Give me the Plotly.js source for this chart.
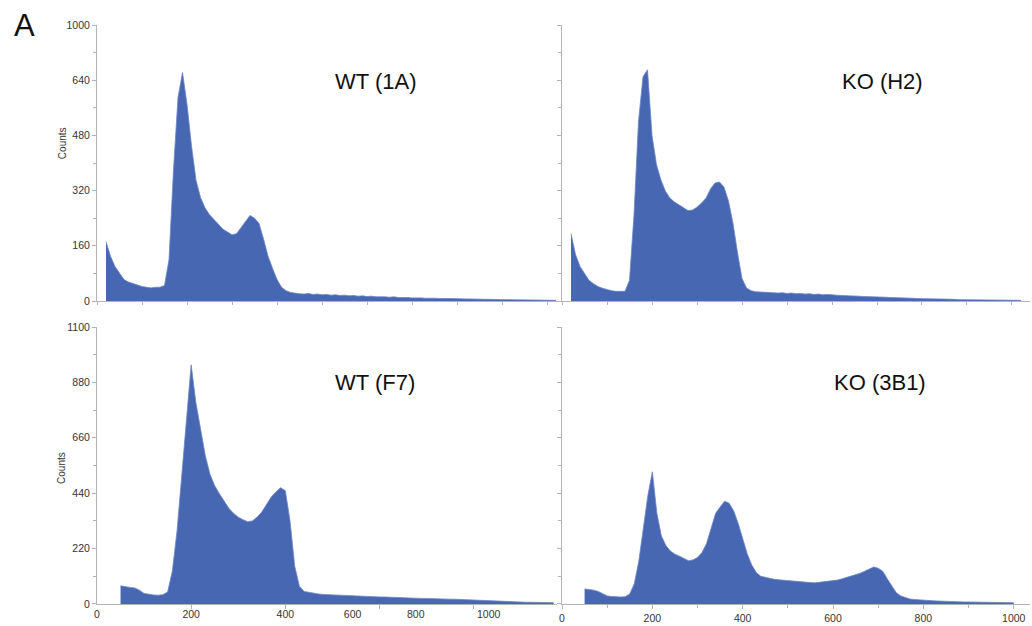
<!DOCTYPE html>
<html>
<head>
<meta charset="utf-8">
<script src="https://cdn.plot.ly/plotly-3.0.1.min.js"></script>
<style>html,body{margin:0;padding:0;background:#fff;}#chart{width:1032px;height:626px;}</style>
</head>
<body>
<div id="chart"></div>
<script>
// ---- data: histogram counts per channel bin (bin width = BIN_WIDTH channels) ----
const BIN_WIDTH = 10;

const panelTitles = ['WT (1A)', 'KO (H2)', 'WT (F7)', 'KO (3B1)'];

const wt1aStart = 20;
const wt1aCounts = [172,130,100,80,62,55,50,45,42,40,38,40,40,45,120,380,590,662,570,450,
  350,300,270,250,235,220,208,200,192,195,212,232,248,240,225,180,130,95,62,40,
  30,25,22,21,20,22,19,20,18,19,17,18,16,17,15,16,14,15,13,14,
  12,13,12,11,12,10,11,10,9,10,9,8,9,8,7,8,7,7,6,7,
  6,6,5,6,5,5,4,5,4,4,4,3,4,3,3,3,3,2,3,2,2];

const koH2Start = 20;
const koH2Counts = [195,135,100,78,60,50,42,37,33,30,28,27,28,60,250,520,650,670,480,395,
  350,318,298,287,278,270,262,264,272,284,298,325,342,345,330,290,225,140,65,38,
  30,27,26,25,24,25,23,24,22,23,21,22,20,21,19,20,18,19,17,17,
  16,16,15,15,14,13,13,12,12,11,11,10,10,9,9,8,8,7,7,6,
  6,6,5,5,5,5,4,4,4,4,4,3,3,3,3,3,3,2,2,2,2];

const wtF7Start = 50;
const wtF7Counts = [72,68,66,64,55,42,38,36,35,37,48,130,290,520,740,950,800,700,590,515,
  470,438,410,380,360,345,335,327,330,345,365,395,425,445,462,450,330,150,70,50,
  46,42,40,38,37,36,35,34,33,32,31,31,30,29,29,28,28,27,26,26,
  25,24,24,23,22,22,21,21,20,20,19,19,18,17,16,15,15,14,13,12,
  11,10,10,9,8,8,7,7,6,6,5,5,5];

const ko3B1Start = 50;
const ko3B1Counts = [60,58,55,50,40,32,30,28,28,29,40,80,170,300,430,525,360,270,232,210,
  198,190,180,172,175,185,205,240,300,360,385,408,400,370,320,260,200,155,125,110,
  105,100,98,96,94,92,90,89,88,86,85,84,86,88,90,92,95,100,105,110,
  116,122,130,138,147,142,130,100,70,45,32,25,20,18,16,15,14,13,12,11,
  10,10,9,9,8,8,8,7,7,7,6,6,6,6,5,5];

// ---- axis ticks ----
const topYTickVals = [0,160,320,480,640,800];
const topYTickText = ['0','160','320','480','640','1000'];
const botYTickVals = [0,220,440,660,880,1100];
const botYTickText = ['0','220','440','660','880','1100'];
const blXTickVals = [0,200,400,543,677,832];
const blXTickText = ['0','200','400','600','800','1000'];
const brXTickVals = [0,200,400,600,800,1000];
const brXTickText = ['0','200','400','600','800','1000'];

// ---- styling ----
const FILL = '#4767b2';
const EDGE = '#6a84c6';
const AXIS = '#b3b3b3';
const FONT = 'Arial, "Liberation Sans", sans-serif';

function hist(start, counts, xa, ya) {
  return {
    type: 'scatter', mode: 'lines',
    x0: start, dx: BIN_WIDTH, y: counts,
    line: {shape: 'linear', color: EDGE, width: 0.8},
    fill: 'tozeroy', fillcolor: FILL,
    xaxis: xa, yaxis: ya, hoverinfo: 'skip'
  };
}

const data = [
  hist(wt1aStart, wt1aCounts, 'x', 'y'),
  hist(koH2Start, koH2Counts, 'x2', 'y2'),
  hist(wtF7Start, wtF7Counts, 'x3', 'y3'),
  hist(ko3B1Start, ko3B1Counts, 'x4', 'y4')
];

function xax(domain, anchor, range, extra) {
  return Object.assign({
    domain: domain, anchor: anchor, range: range,
    showline: true, linecolor: AXIS, linewidth: 1,
    showgrid: false, zeroline: false,
    ticks: 'outside', ticklen: 4, tickcolor: AXIS,
    tickfont: {family: FONT, size: 10.5, color: '#333'},
    ticklabeloverflow: 'allow',
    fixedrange: true
  }, extra);
}
function yax(domain, anchor, range, extra) {
  return Object.assign({
    domain: domain, anchor: anchor, range: range,
    showline: true, linecolor: AXIS, linewidth: 1,
    showgrid: false, zeroline: false,
    ticks: 'outside', ticklen: 4, tickcolor: AXIS,
    tickfont: {family: FONT, size: 10.5, color: '#333'},
    ticklabeloverflow: 'allow',
    fixedrange: true
  }, extra);
}

const TOP = [0.5233, 1];
const BOT = [0, 0.4784];
const LEFT = [0, 0.493];
const RIGHT = [0.4984, 1];

const layout = {
  width: 1032, height: 626,
  margin: {l: 97, r: 2, t: 25, b: 22, pad: 0},
  paper_bgcolor: '#fff', plot_bgcolor: '#fff',
  showlegend: false,
  font: {family: FONT},
  xaxis: xax(LEFT, 'y', [0, 1022], {tickmode: 'linear', tick0: 0, dtick: 100, ticklen: 3, showticklabels: false}),
  yaxis: yax(TOP, 'x', [0, 800], {tickmode: 'array', tickvals: topYTickVals, ticktext: topYTickText,
    minor: {ticks: 'outside', ticklen: 3, tickcolor: AXIS, dtick: 80, tick0: 0}}),
  xaxis2: xax(RIGHT, 'y2', [0, 1040], {tickmode: 'linear', tick0: 0, dtick: 100, ticklen: 3, showticklabels: false}),
  yaxis2: yax(TOP, 'x2', [0, 800], {tickmode: 'array', tickvals: topYTickVals, showticklabels: false,
    minor: {ticks: 'outside', ticklen: 3, tickcolor: AXIS, dtick: 80, tick0: 0}}),
  xaxis3: xax(LEFT, 'y3', [0, 977], {tickmode: 'array', tickvals: blXTickVals, ticktext: blXTickText, ticks: '',
    minor: {ticks: 'outside', ticklen: 4, tickcolor: AXIS, tickmode: 'array', tickvals: [200,400,600,800]}}),
  yaxis3: yax(BOT, 'x3', [0, 1100], {tickmode: 'array', tickvals: botYTickVals, ticktext: botYTickText,
    minor: {ticks: 'outside', ticklen: 3, tickcolor: AXIS, dtick: 110, tick0: 0}}),
  xaxis4: xax(RIGHT, 'y4', [0, 1036], {tickmode: 'array', tickvals: brXTickVals, ticktext: brXTickText,
    minor: {ticks: 'outside', ticklen: 3, tickcolor: AXIS, dtick: 100, tick0: 0}}),
  yaxis4: yax(BOT, 'x4', [0, 1100], {tickmode: 'array', tickvals: botYTickVals, showticklabels: false,
    minor: {ticks: 'outside', ticklen: 3, tickcolor: AXIS, dtick: 110, tick0: 0}}),
  annotations: [
    {text: 'A', xref: 'paper', yref: 'paper', x: -0.0772, y: 1.0, xanchor: 'center', yanchor: 'middle',
     showarrow: false, font: {family: FONT, size: 31, color: '#111'}},
    {text: panelTitles[0], xref: 'paper', yref: 'paper', x: 0.298, y: 0.9016, xanchor: 'center', yanchor: 'middle',
     showarrow: false, font: {family: FONT, size: 22, color: '#111'}},
    {text: panelTitles[1], xref: 'paper', yref: 'paper', x: 0.8424, y: 0.9016, xanchor: 'center', yanchor: 'middle',
     showarrow: false, font: {family: FONT, size: 22, color: '#111'}},
    {text: panelTitles[2], xref: 'paper', yref: 'paper', x: 0.298, y: 0.3817, xanchor: 'center', yanchor: 'middle',
     showarrow: false, font: {family: FONT, size: 22, color: '#111'}},
    {text: panelTitles[3], xref: 'paper', yref: 'paper', x: 0.8392, y: 0.3817, xanchor: 'center', yanchor: 'middle',
     showarrow: false, font: {family: FONT, size: 22, color: '#111'}},
    {text: 'Counts', xref: 'paper', yref: 'paper', x: -0.0375, y: 0.796, xanchor: 'center', yanchor: 'middle',
     textangle: -90, showarrow: false, font: {family: FONT, size: 10, color: '#333'}},
    {text: 'Counts', xref: 'paper', yref: 'paper', x: -0.0375, y: 0.235, xanchor: 'center', yanchor: 'middle',
     textangle: -90, showarrow: false, font: {family: FONT, size: 10, color: '#333'}}
  ]
};

Plotly.newPlot('chart', data, layout, {staticPlot: true, displayModeBar: false});
</script>
</body>
</html>
